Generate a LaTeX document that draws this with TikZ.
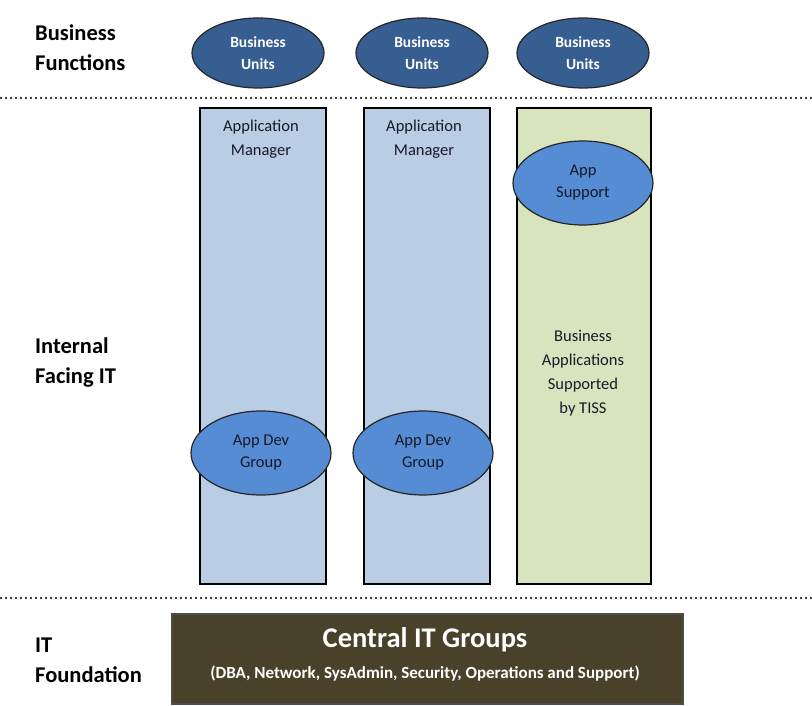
\documentclass[tikz,border=0pt]{standalone}
\usepackage{fontspec}
\setmainfont{Carlito}
\usetikzlibrary{shapes.geometric}
\definecolor{unitblue}{RGB}{54,94,145}
\definecolor{colblue}{RGB}{185,205,229}
\definecolor{colgreen}{RGB}{215,228,189}
\definecolor{appblue}{RGB}{85,140,212}
\definecolor{textdark}{RGB}{25,25,40}
\definecolor{olive}{RGB}{73,65,42}
\definecolor{dotgray}{RGB}{60,60,60}
\tikzset{
  rowlabel/.style={anchor=west, align=left, font=\fontsize{22.5}{30}\selectfont\bfseries, text=black, inner sep=0pt},
  unitoval/.style={ellipse, draw=black!85, line width=1.2pt, fill=unitblue,
    minimum width=132pt, minimum height=70pt, inner sep=0pt, align=center,
    text=white, font=\fontsize{15.5}{22}\selectfont\bfseries},
  column/.style={draw=black, line width=1.3pt, minimum width=126pt, minimum height=476pt, inner sep=0pt},
  appoval/.style={ellipse, draw=black!85, line width=1.2pt, fill=appblue,
    minimum width=140pt, minimum height=84pt, inner sep=0pt, align=center,
    text=textdark, font=\fontsize{16.5}{22}\selectfont},
  coltext/.style={align=center, text=textdark, font=\fontsize{16.5}{24}\selectfont, inner sep=0pt},
  divider/.style={line width=2.2pt, dotgray, dash pattern=on 2pt off 3pt}
}
\begin{document}
\begin{tikzpicture}[x=1pt, y=-1pt]
  \useasboundingbox (0,0) rectangle (812,706);

  % row labels
  \node[rowlabel] (lblbiz) at (35,48) {Business\\Functions};
  \node[rowlabel] (lblint) at (35,363) {Internal\\Facing IT};
  \node[rowlabel] (lblfound) at (35,660) {IT\\Foundation};

  % dotted dividers between the three layers
  \coordinate (d1a) at (0,98);
  \coordinate (d1b) at (812,98);
  \coordinate (d2a) at (0,598);
  \coordinate (d2b) at (812,598);
  \draw[divider] (d1a) -- (d1b);
  \draw[divider] (d2a) -- (d2b);

  % business units
  \node[unitoval] (bu1) at (258,53) {Business\\Units};
  \node[unitoval] (bu2) at (422,53) {Business\\Units};
  \node[unitoval] (bu3) at (583,53) {Business\\Units};

  % columns
  \node[column, fill=colblue] (col1) at (263,346) {};
  \node[column, fill=colblue] (col2) at (427,346) {};
  \node[column, fill=colgreen, minimum width=134pt] (col3) at (584,346) {};

  \node[coltext] (am1) at (261,139) {Application\\Manager};
  \node[coltext] (am2) at (424,139) {Application\\Manager};

  \node[appoval] (sup) at (583,183) {App\\Support};
  \node[coltext] (tiss) at (583,373) {Business\\Applications\\Supported\\by TISS};

  \node[appoval] (dev1) at (261,453) {App Dev\\Group};
  \node[appoval] (dev2) at (423,453) {App Dev\\Group};

  % foundation block
  \node[draw=black!70, line width=1.2pt, fill=olive, minimum width=511pt, minimum height=90pt, inner sep=0pt] (central) at (427.5,659) {};
  \node[text=white, font=\fontsize{28.5}{30}\selectfont\bfseries, inner sep=0pt] (ctitle) at (425,640) {Central IT Groups};
  \node[text=white, font=\fontsize{17}{18}\selectfont\bfseries, inner sep=0pt] (csub) at (425,674) {(DBA, Network, SysAdmin, Security, Operations and Support)};
\end{tikzpicture}
\end{document}
